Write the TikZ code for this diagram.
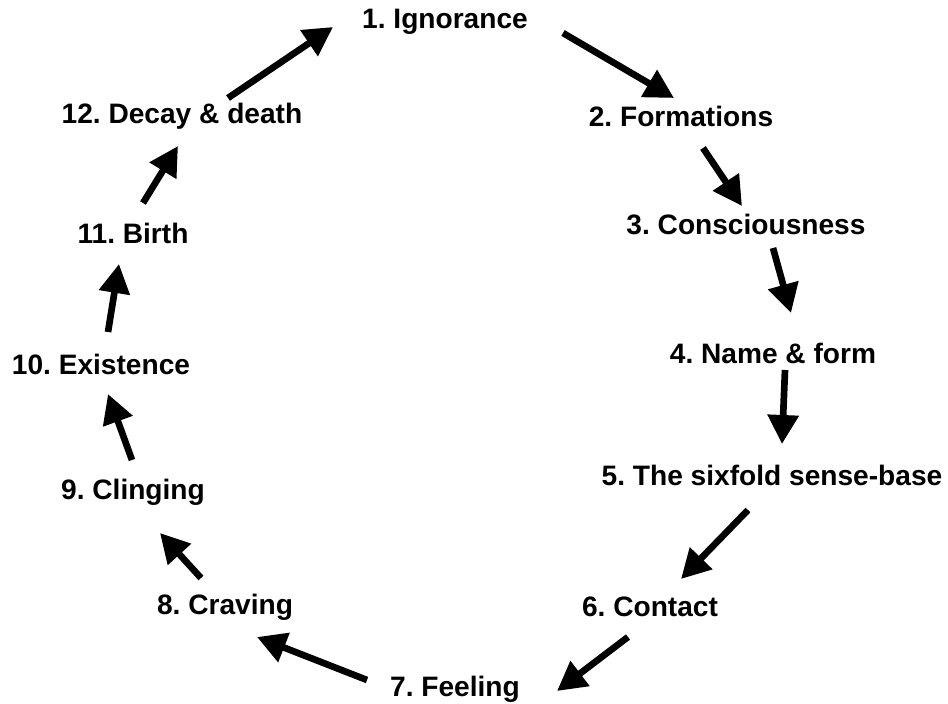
\documentclass[tikz,border=0pt]{standalone}
\usepackage{fontspec}
\setmainfont{Liberation Sans}
\usetikzlibrary{arrows.meta}
\frenchspacing
\begin{document}
\begin{tikzpicture}[x=0.02cm, y=-0.02cm, font=\fontsize{16}{19}\selectfont\bfseries,
		link/.style={line width=3.8pt, -{Triangle[length=0.58cm, width=0.6cm]}}]
	\useasboundingbox (0,0) rectangle (948,704);
	% the twelve links
	\node (ignorance) at (445,22) {1. Ignorance};
	\node (formations) at (681,116) {2. Formations};
	\node (consc) at (746,224) {3. Consciousness};
	\node (nameform) at (773,353) {4. Name \& form};
	\node (sixfold) at (772,475) {5. The sixfold sense-base};
	\node (contact) at (650,607) {6. Contact};
	\node (feeling) at (455,689) {7. Feeling};
	\node (craving) at (225,607) {8. Craving};
	\node (clinging) at (133,492) {9. Clinging};
	\node (existence) at (101,364) {10. Existence};
	\node (birth) at (133,233) {11. Birth};
	\node (decay) at (182,116) {12. Decay \& death};
	% arrow ends
	\coordinate (s1) at (563,33);  \coordinate (e1) at (674,98);
	\coordinate (s2) at (703,148); \coordinate (e2) at (742,206);
	\coordinate (s3) at (773,248); \coordinate (e3) at (791,313);
	\coordinate (s4) at (785,370); \coordinate (e4) at (782,444);
	\coordinate (s5) at (748,510); \coordinate (e5) at (681,579);
	\coordinate (s6) at (628,637); \coordinate (e6) at (557,691);
	\coordinate (s7) at (367,680); \coordinate (e7) at (257,637);
	\coordinate (s8) at (201,578); \coordinate (e8) at (160,533);
	\coordinate (s9) at (132,460); \coordinate (e9) at (108,394);
	\coordinate (s10) at (108,332); \coordinate (e10) at (119,264);
	\coordinate (s11) at (143,203); \coordinate (e11) at (178,146);
	\coordinate (s12) at (228,98); \coordinate (e12) at (333,27);
	\foreach \i in {1,...,12}
		\draw[link] (s\i) -- (e\i);
\end{tikzpicture}
\end{document}
